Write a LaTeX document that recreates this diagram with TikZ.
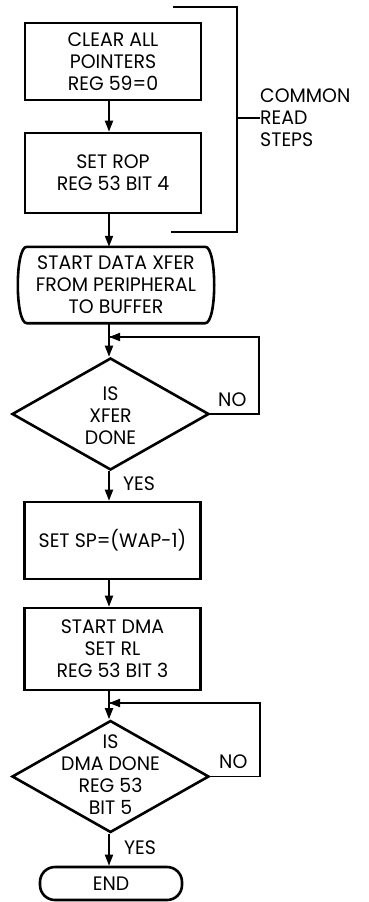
\documentclass[tikz,border=0pt]{standalone}
\usepackage{fontspec}
\setmainfont{Poppins}[FakeStretch=0.97]
\usetikzlibrary{arrows.meta,shapes.geometric}
\begin{document}
\begin{tikzpicture}[x=1pt,y=-1pt,
  every node/.style={font=\fontsize{19.5}{22}\selectfont, align=center, inner sep=0pt},
  procbox/.style={draw, line width=2.6pt, minimum width=176pt},
  dec/.style={draw, diamond, line width=2.6pt, minimum width=197pt, minimum height=112pt},
  conn/.style={line width=1.8pt, -{Triangle[length=11pt,width=8pt]}},
  loopline/.style={line width=1.8pt},
  brk/.style={line width=1.3pt},
  lbl/.style={font=\fontsize{19.5}{22}\selectfont}]
\useasboundingbox (0,0) rectangle (368,902);

% boxes
\node[procbox, minimum height=77pt] (b1) at (113,61.5) {CLEAR ALL\\POINTERS\\REG 59=0};
\node[procbox, minimum height=80pt] (b2) at (113,173) {SET ROP\\REG 53 BIT 4};
\node[minimum width=198pt, minimum height=76pt] (b3) at (116,285) {START DATA XFER\\FROM PERIPHERAL\\TO BUFFER};
\draw[line width=2.6pt] ([xshift=10pt]b3.north west) -- ([xshift=-10pt]b3.north east)
  .. controls ([xshift=2pt]b3.north east) and ([xshift=2pt]b3.south east) .. ([xshift=-10pt]b3.south east)
  -- ([xshift=10pt]b3.south west)
  .. controls ([xshift=-2pt]b3.south west) and ([xshift=-2pt]b3.north west) .. ([xshift=10pt]b3.north west) -- cycle;
\node[dec] (d1) at (110.5,414) {};
\node at (110.5,416) {IS\\XFER\\DONE};
\node[procbox, minimum height=77pt] (b4) at (112.5,540.5) {SET SP=(WAP-1)};
\node[procbox, minimum height=82pt] (b5) at (112.5,649) {START DMA\\SET RL\\REG 53 BIT 3};
\node[dec] (d2) at (110.5,776.5) {};
\node at (110.5,775) {IS\\DMA DONE\\REG 53\\BIT 5};
\node[draw, line width=2.6pt, rounded corners=15pt, minimum width=142pt, minimum height=33pt] (e) at (111,883.5) {END};

% connectors
\draw[conn] (b1.south -| 109,0) -- (b2.north -| 109,0);
\draw[conn] (b2.south -| 109,0) -- (b3.north -| 109,0);
\coordinate (j1) at (109,337);
\coordinate (j2) at (109,703);
\draw[conn] (b3.south -| 109,0) -- (d1.north -| 109,0);
\draw[loopline] (d1.east) -- (259,414) |- (j1);
\draw[conn] (259,337) -- (j1);
\draw[conn] (d1.south -| 109,0) -- (b4.north -| 109,0);
\draw[conn] (b4.south -| 109,0) -- (b5.north -| 109,0);
\draw[conn] (b5.south -| 109,0) -- (d2.north -| 109,0);
\draw[loopline] (d2.east) -- (260,776.5) |- (j2);
\draw[conn] (260,703) -- (j2);
\draw[conn] (d2.south -| 109,0) -- (e.north -| 109,0);

% labels
\node[lbl, anchor=west] (no1) at (218,400) {NO};
\node[lbl, anchor=west] (no2) at (219,762) {NO};
\node[lbl, anchor=west] (yes1) at (123,484) {YES};
\node[lbl, anchor=west] (yes2) at (124,848) {YES};

% bracket
\coordinate (bt) at (173,7);
\coordinate (bb) at (171,232);
\draw[brk] (bt) -- (237,7) -- (237,232) -- (bb);
\node[lbl, anchor=west, align=left] (crs) at (260,118) {COMMON\\READ\\STEPS};
\draw[brk] (237,118) -- (crs.west);
\end{tikzpicture}
\end{document}
